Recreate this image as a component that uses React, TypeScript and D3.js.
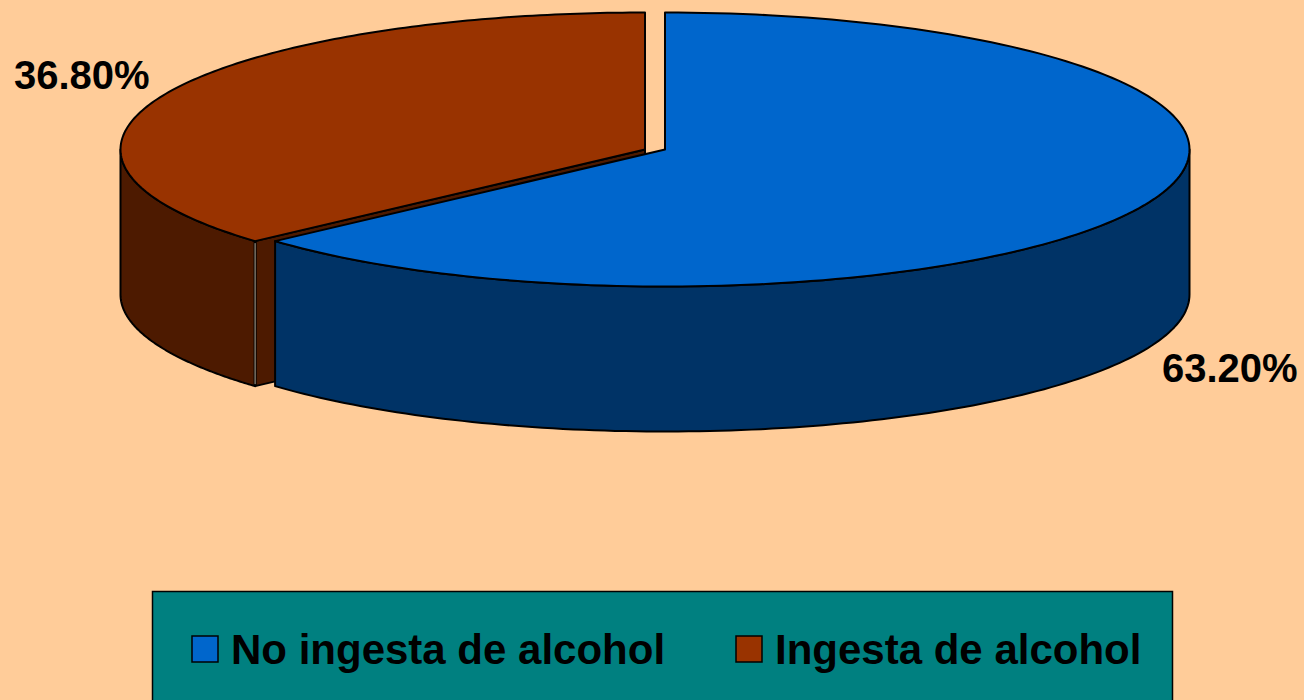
import React, { useLayoutEffect } from "react";
import * as d3 from "d3";

const categories = ["No ingesta de alcohol", "Ingesta de alcohol"];
const values = [63.2, 36.8];
const labels = ["63.20%", "36.80%"];
const topColors = ["#0066CC", "#993300"];
const sideColors = ["#003366", "#4D1A00"];

const W = 1304, H = 700;
const RX = 524.5, RY = 137, DEPTH = 145, CY = 149.5;
const centers = [665, 645];
// The source's seam sits about half a degree past the exact share.
const SEAM_SHIFT = (0.5 * Math.PI) / 180;

const pieGen = d3.pie<number>().sort(null);
const slices = pieGen(values);

// x/y on the rim of the tilted ellipse; angle 0 is at the top, clockwise.
const rimX = (cx: number, a: number) => cx + RX * Math.sin(a);
const rimY = (a: number) => CY - RY * Math.cos(a);

function topPath(cx: number, a0: number, a1: number): string {
  const p = d3.path();
  p.moveTo(cx, CY);
  p.lineTo(rimX(cx, a0), rimY(a0));
  const n = 160;
  d3.range(1, n + 1).forEach((i) => {
    const a = a0 + ((a1 - a0) * i) / n;
    p.lineTo(rimX(cx, a), rimY(a));
  });
  p.closePath();
  return p.toString();
}

function wallPath(cx: number, a0: number, a1: number): string {
  const n = 120;
  const p = d3.path();
  p.moveTo(rimX(cx, a0), rimY(a0));
  d3.range(1, n + 1).forEach((i) => {
    const a = a0 + ((a1 - a0) * i) / n;
    p.lineTo(rimX(cx, a), rimY(a));
  });
  d3.range(n, -1, -1).forEach((i) => {
    const a = a0 + ((a1 - a0) * i) / n;
    p.lineTo(rimX(cx, a), rimY(a) + DEPTH);
  });
  p.closePath();
  return p.toString();
}

function cutPath(cx: number, a: number): string {
  const p = d3.path();
  p.moveTo(cx, CY);
  p.lineTo(rimX(cx, a), rimY(a));
  p.lineTo(rimX(cx, a), rimY(a) + DEPTH);
  p.lineTo(cx, CY + DEPTH);
  p.closePath();
  return p.toString();
}

export default function App() {
  useLayoutEffect(() => {
    document.body.style.margin = "0";
    document.body.style.background = "#FFCC99";
  }, []);

  const [blue, red] = slices;
  const seam = blue.endAngle + SEAM_SHIFT;
  const seamX = rimX(centers[1], seam);
  const seamY = rimY(seam);
  const font = "'Liberation Sans', Arial, sans-serif";
  const stroke = { stroke: "#000", strokeWidth: 2, strokeLinejoin: "round" as const };

  return (
    <svg width={W} height={H} style={{ display: "block" }} fontFamily={font}>
      <rect width={W} height={H} fill="#FFCC99" />

      {/* Red slice, exploded to the left */}
      <path d={cutPath(centers[1], seam)} fill={sideColors[1]} {...stroke} />
      <path d={wallPath(centers[1], seam, 1.5 * Math.PI)} fill={sideColors[1]} {...stroke} />
      <line x1={seamX} x2={seamX} y1={seamY} y2={seamY + DEPTH} stroke="#000" strokeWidth={3} />
      <line x1={seamX} x2={seamX} y1={seamY + 2} y2={seamY + DEPTH - 2} stroke="#B9AA98" strokeWidth={1} />
      <path d={topPath(centers[1], seam, red.endAngle)} fill={topColors[1]} {...stroke} />

      {/* Blue slice */}
      <path d={wallPath(centers[0], 0.5 * Math.PI, seam)} fill={sideColors[0]} {...stroke} />
      <path d={topPath(centers[0], blue.startAngle, seam)} fill={topColors[0]} {...stroke} />

      {/* Data labels */}
      <text x={1162} y={382} fontSize={40} fontWeight={700} fill="#000">{labels[0]}</text>
      <text x={14} y={89} fontSize={40} fontWeight={700} fill="#000">{labels[1]}</text>

      {/* Legend */}
      <rect x={152.5} y={591.5} width={1020} height={120} fill="#008080" stroke="#000" strokeWidth={1.5} />
      <rect x={192} y={636} width={26} height={26} fill={topColors[0]} stroke="#000" strokeWidth={1.5} />
      <text x={231} y={664} fontSize={42} fontWeight={700} fill="#000">{categories[0]}</text>
      <rect x={736} y={636} width={26} height={26} fill={topColors[1]} stroke="#000" strokeWidth={1.5} />
      <text x={775} y={664} fontSize={42} fontWeight={700} fill="#000">{categories[1]}</text>
    </svg>
  );
}
